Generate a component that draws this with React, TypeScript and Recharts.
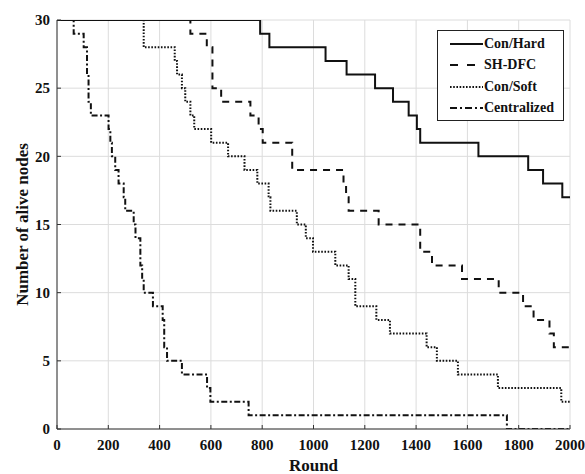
import { LineChart, Line, XAxis, YAxis, CartesianGrid, Legend, Label } from 'recharts'

// Each step is [round, alive nodes]; the count holds until the next step.
const conHardSteps: [number, number][] = [
  [0, 30], [792, 29], [828, 28], [1047, 27], [1129, 26], [1240, 25], [1310, 24],
  [1371, 23], [1403, 22], [1416, 21], [1643, 20], [1837, 19], [1895, 18], [1970, 17], [2000, 17],
]

const shDfcSteps: [number, number][] = [
  [0, 30], [520, 29], [584, 28], [606, 25], [640, 24], [754, 23], [786, 22], [802, 21],
  [917, 19], [1117, 18], [1127, 17], [1137, 16], [1254, 15], [1416, 13], [1462, 12],
  [1579, 11], [1722, 10], [1817, 9], [1858, 8], [1920, 7], [1937, 6], [2000, 6],
]

const conSoftSteps: [number, number][] = [
  [0, 30], [338, 28], [459, 27], [468, 26], [487, 25], [500, 24], [520, 23], [535, 22],
  [601, 21], [667, 20], [731, 19], [781, 18], [825, 17], [832, 16], [935, 15], [970, 14],
  [998, 13], [1085, 12], [1137, 11], [1163, 9], [1245, 8], [1298, 7], [1441, 6], [1481, 5],
  [1563, 4], [1719, 3], [1966, 2], [2000, 2],
]

const centralizedSteps: [number, number][] = [
  [0, 30], [65, 29], [104, 28], [117, 26], [123, 24], [132, 23], [201, 22], [208, 21],
  [214, 20], [227, 19], [240, 18], [260, 17], [266, 16], [299, 15], [306, 14], [325, 12],
  [332, 11], [338, 10], [374, 9], [412, 8], [418, 6], [429, 5], [487, 4], [585, 3],
  [598, 2], [747, 1], [1754, 0], [2000, 0],
]

const roundTicks = [0, 200, 400, 600, 800, 1000, 1200, 1400, 1600, 1800, 2000]
const nodeTicks = [0, 5, 10, 15, 20, 25, 30]

const FONT = '"Liberation Serif", "Times New Roman", serif'
const INK = '#111'

const series = [
  { name: 'Con/Hard', steps: conHardSteps, dash: undefined, legendDash: undefined },
  { name: 'SH-DFC', steps: shDfcSteps, dash: '7 6', legendDash: '8 9' },
  { name: 'Con/Soft', steps: conSoftSteps, dash: '1.6 1.6', legendDash: '1.6 1.6' },
  { name: 'Centralized', steps: centralizedSteps, dash: '6 2.5 2 2.5', legendDash: '7 3 2 3' },
]

const toPoints = (steps: [number, number][]) => steps.map(([round, nodes]) => ({ round, nodes }))

function StepLegend() {
  return (
    <div
      style={{
        width: 127,
        boxSizing: 'border-box',
        border: '1px solid #222',
        background: '#fff',
        padding: '2px 0 1px 12px',
        fontFamily: FONT,
        fontWeight: 'bold',
        fontSize: 14,
        color: INK,
      }}
    >
      {series.map((s) => (
        <div key={s.name} style={{ display: 'flex', alignItems: 'center', height: 21.5 }}>
          <svg width={33} height={6} style={{ flex: 'none' }}>
            <line x1={0} y1={3} x2={33} y2={3} stroke={INK} strokeWidth={2} strokeDasharray={s.legendDash} />
          </svg>
          <span style={{ marginLeft: 1, lineHeight: 1 }}>{s.name}</span>
        </div>
      ))}
    </div>
  )
}

export default function App() {
  const tickStyle = { fontFamily: FONT, fontWeight: 'bold' as const, fontSize: 15, fill: INK }
  return (
    <div style={{ position: 'absolute', left: 0, top: 0, width: 585, height: 474, background: '#fff' }}>
      <LineChart width={585} height={474} margin={{ top: 20, right: 15, bottom: 15, left: 17 }}>
        <CartesianGrid stroke="#dcdcdc" strokeWidth={1} />
        <XAxis
          type="number"
          dataKey="round"
          domain={[0, 2000]}
          ticks={roundTicks}
          interval={0}
          height={30}
          stroke="#333"
          tickSize={-4}
          tickMargin={14}
          tick={tickStyle}
          allowDataOverflow
        >
          <Label value="Round" position="insideBottom" offset={-12} style={{ fontFamily: FONT, fontWeight: 'bold', fontSize: 17, fill: INK }} />
        </XAxis>
        <YAxis
          type="number"
          dataKey="nodes"
          domain={[0, 30]}
          ticks={nodeTicks}
          interval={0}
          width={40}
          stroke="#333"
          tickSize={-4}
          tickMargin={11}
          tick={tickStyle}
          allowDataOverflow
        >
          <Label
            value="Number of alive nodes"
            angle={-90}
            position="insideLeft"
            offset={5}
            style={{ textAnchor: 'middle', fontFamily: FONT, fontWeight: 'bold', fontSize: 17, fill: INK }}
          />
        </YAxis>
        <Legend
          layout="horizontal"
          verticalAlign="middle"
          content={<StepLegend />}
          wrapperStyle={{ top: 30, left: 437, width: 127 }}
        />
        {series.map((s) => (
          <Line
            key={s.name}
            name={s.name}
            data={toPoints(s.steps)}
            dataKey="nodes"
            type="stepAfter"
            stroke={INK}
            strokeWidth={2}
            strokeDasharray={s.dash}
            dot={false}
            activeDot={false}
            isAnimationActive={false}
          />
        ))}
      </LineChart>
    </div>
  )
}
